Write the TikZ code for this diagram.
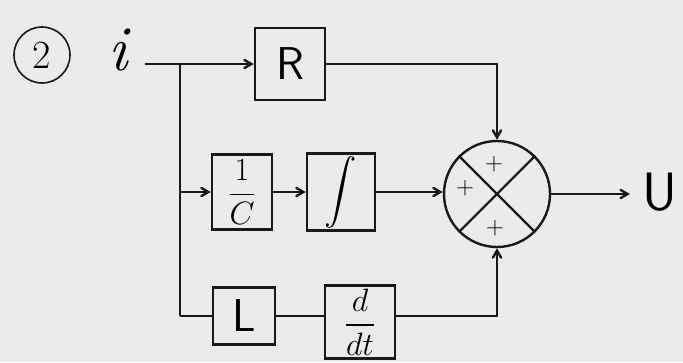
\documentclass[tikz,border=0pt]{standalone}
\usepackage{amsmath}
\usepackage{graphicx}
\usepackage{tikz}
\usetikzlibrary{arrows}
\definecolor{paper}{RGB}{233,236,232}
\definecolor{ink}{RGB}{25,25,25}
\tikzset{blk/.style={draw=ink, line width=2.4pt, inner sep=0pt}}
\tikzset{xl/.style={font=\fontsize{64}{64}\selectfont}}
\tikzset{l/.style={font=\fontsize{46}{46}\selectfont}}
\tikzset{m/.style={font=\fontsize{24}{24}\selectfont}}
\tikzset{s/.style={font=\fontsize{24}{24}\selectfont}}

\begin{document}
\begin{tikzpicture}[x=1pt, y=-1pt, line width=2.4pt, draw=ink, >=angle 60]
  \fill [paper] (0,0) rectangle (683,362);
  \useasboundingbox (0,0) rectangle (683,362);

  % item number and input
  \node (num) at (42,55) [draw=ink, line width=1.6pt, circle, minimum size=56pt, font=\fontsize{40}{40}\selectfont] {2};
  \node (i) at (120,50) [xl] {\textit{i}};
  \coordinate (in) at (145,64);
  \coordinate (j1) at (180,64);
  \coordinate (j2) at (180,192);
  \coordinate (j3) at (180,316);

  % branch blocks
  \node (R) at (290,64) [blk, minimum width=70pt, minimum height=72pt, l] {\sffamily R};
  \node (inv) at (242,192) [blk, minimum width=60pt, minimum height=75pt, m] {\scalebox{1.3}{$\dfrac{1}{C}$}};
  \node (int) at (341,192) [blk, minimum width=68pt, minimum height=77pt, m] {\scalebox{1.3}{$\displaystyle\int$}};
  \node (L) at (244,316) [blk, minimum width=62pt, minimum height=57pt, l] {\sffamily L};
  \node (ddt) at (360,322) [blk, minimum width=70pt, minimum height=73pt, m] {\scalebox{1.3}{$\dfrac{d}{dt}$}};

  % summing point
  \node (sum) at (497,194) [draw=ink, circle, minimum size=106pt] {};
  \draw (sum.45) -- (sum.225);
  \draw (sum.135) -- (sum.-45);
  \node at (465,188) [s] {$+$};
  \node at (494,164) [s] {$+$};
  \node at (495,228) [s] {$+$};

  % output
  \coordinate (out) at (630,194);
  \node (U) at (660,192) [font=\fontsize{54}{54}\selectfont] {\sffamily U};

  % connections
  \draw (in) -- (j1) -- (j3);
  \draw [->] (j1) -- (R);
  \draw [->] (j2) -- (inv);
  \draw [->] (inv) -- (int);
  \draw [->] (int.east) -- (int.east -| sum.west);
  \draw [->] (R) -| (sum);
  \draw (j3) -- (L);
  \draw (L) -- (ddt.west |- L);
  \draw [->] (ddt.east |- L) -| (sum);
  \draw [->] (sum) -- (out);
\end{tikzpicture}
\end{document}
